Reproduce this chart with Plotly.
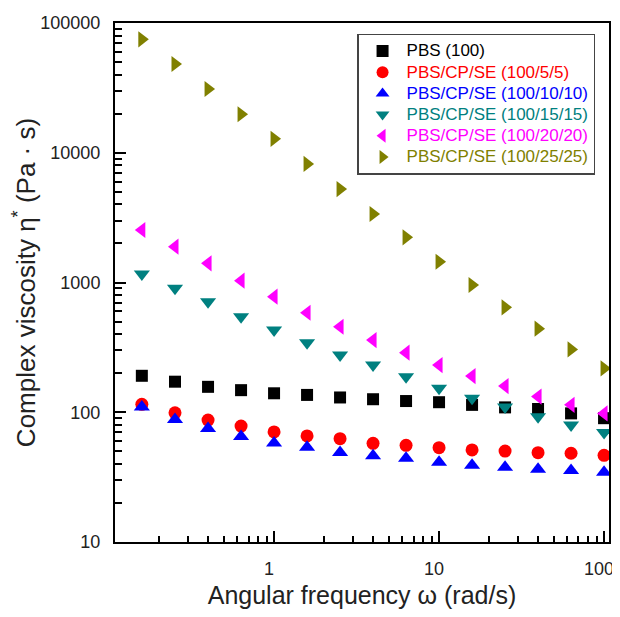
import plotly.graph_objects as go

# Angular frequency (rad/s)
freq = [0.158, 0.251, 0.398, 0.631, 1.0, 1.585, 2.512, 3.981, 6.31, 10.0,
        15.85, 25.12, 39.81, 63.1, 100.0]

pbs_100 = [191, 172, 157, 148, 140, 136, 130, 126, 122, 119.5, 114, 109, 106, 98, 90]
pbs_5_5 = [115, 99, 87, 78.3, 70.5, 65.7, 62.6, 57.6, 55.6, 53.3, 51.2, 50.2, 48.8, 48.3, 46.6]
pbs_10_10 = [110, 88, 75, 65, 58, 53.7, 49, 46.2, 44.2, 41.1, 39, 37.6, 36.3, 35.5, 34.5]
pbs_15_15 = [1164, 901, 711, 545, 431, 344, 276, 231, 188, 153, 128, 110, 92.5, 79.8, 69.7]
pbs_20_20 = [2540, 1888, 1406, 1033, 778, 585, 456, 360, 288, 231, 190, 159, 132, 114, 98]
pbs_25_25 = [74800, 48300, 31000, 19800, 12800, 8200, 5250, 3375, 2230, 1446, 957, 644, 441, 305, 218]

names = ["PBS (100)", "PBS/CP/SE (100/5/5)", "PBS/CP/SE (100/10/10)",
         "PBS/CP/SE (100/15/15)", "PBS/CP/SE (100/20/20)", "PBS/CP/SE (100/25/25)"]
series = [pbs_100, pbs_5_5, pbs_10_10, pbs_15_15, pbs_20_20, pbs_25_25]
colors = ["#000000", "#FF0000", "#0000FF", "#008080", "#FF00FF", "#808000"]
symbols = ["square", "circle", "triangle-up", "triangle-down", "triangle-left", "triangle-right"]
sizes = [12, 13, 14, 14, 14, 14]

y_ticks = [10, 100, 1000, 10000, 100000]
y_ticktext = ["10", "100", "1000", "10000", "100000"]
x_ticks = [1, 10, 100]
x_ticktext = ["1", "10", "100"]
y_minor = [m * 10 ** d for d in range(1, 5) for m in range(2, 10)]
x_minor = [m * 10 ** d for d in range(-1, 2) for m in range(2, 10)]

fig = go.Figure()
for n, s, c, sym, sz in zip(names, series, colors, symbols, sizes):
    fig.add_trace(go.Scatter(
        x=freq, y=s, mode="markers",
        name=f'<span style="color:{c};font-size:17px">{n}</span>',
        marker=dict(symbol=sym, size=sz, color=c, line=dict(width=0)),
    ))

FONT = "Arial, Liberation Sans"
TICKFONT = dict(family=FONT, size=18, color="#222")
axis_common = dict(
    showline=True, linecolor="black", linewidth=2, mirror=True,
    ticks="inside", ticklen=11, tickwidth=2, tickcolor="black",
    showgrid=False, zeroline=False, automargin=False,
    tickfont=TICKFONT, ticklabeloverflow="allow", ticklabelstandoff=9,
)

fig.update_xaxes(
    type="log", range=[-0.964, 2.03], tickvals=x_ticks, ticktext=x_ticktext,
    ticklabelshift=-5,
    minor=dict(tickvals=x_minor, ticks="inside", ticklen=6, tickwidth=1.5,
               tickcolor="black", showgrid=False),
    title=dict(text="Angular frequency ω (rad/s)",
               font=dict(family=FONT, size=25, color="#222"), standoff=18),
    **axis_common,
)
fig.update_yaxes(
    type="log", range=[1, 5], tickvals=y_ticks, ticktext=y_ticktext,
    minor=dict(tickvals=y_minor, ticks="inside", ticklen=7, tickwidth=1.5,
               tickcolor="black", showgrid=False),
    title=dict(text="Complex viscosity η<sup>*</sup> (Pa · s)",
               font=dict(family=FONT, size=26, color="#222"), standoff=4),
    **axis_common,
)

fig.update_layout(
    width=612, height=601,
    margin=dict(l=107, r=11, t=15, b=67),
    paper_bgcolor="white", plot_bgcolor="white",
    font=dict(family=FONT),
    legend=dict(x=0.49, y=0.979, xanchor="left", yanchor="top",
                bgcolor="white", bordercolor="#444", borderwidth=1.5,
                font=dict(size=14, color="#222"), tracegroupgap=0,
                itemsizing="constant", itemwidth=38),
)

fig.write_html("out.html")
